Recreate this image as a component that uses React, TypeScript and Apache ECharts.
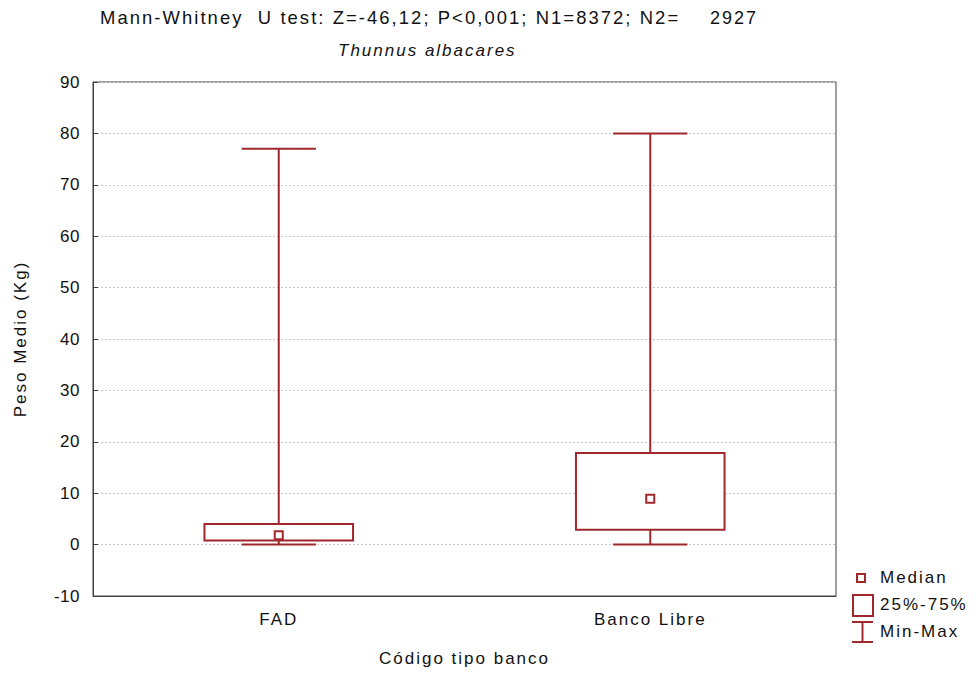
import React, { useEffect, useRef } from "react";
import * as echarts from "echarts";

const categories = ["FAD", "Banco Libre"];
const minValues = [0, 0];
const q1Values = [0.8, 2.9];
const medianValues = [1.8, 8.9];
const q3Values = [4, 17.8];
const maxValues = [77, 80];
const yTicks = { min: -10, max: 90, interval: 10 };

const RED = "#a0282c";
const FONT = "Liberation Sans, Arial, sans-serif";
const FS = 17;

export default function App() {
  const ref = useRef<HTMLDivElement>(null);
  useEffect(() => {
    if (!ref.current) return;
    const chart = echarts.init(ref.current, null, { renderer: "svg", width: 976, height: 673 });
    const data = categories.map((_, i) => [i, minValues[i], q1Values[i], medianValues[i], q3Values[i], maxValues[i]]);
    chart.setOption({
      animation: false,
      backgroundColor: "#ffffff",
      textStyle: { fontFamily: FONT },
      grid: { left: 93, top: 82, width: 743, height: 514, show: true, borderColor: "#404040", borderWidth: 1, backgroundColor: "transparent" },
      xAxis: {
        type: "category",
        data: categories,
        axisLine: { show: true, onZero: false, lineStyle: { color: "#404040" } },
        axisTick: { show: false },
        axisLabel: { color: "#111", fontSize: FS, margin: 15, fontFamily: FONT },
        splitLine: { show: false },
        name: "Código tipo banco",
        nameLocation: "middle",
        nameGap: 54,
        nameTextStyle: { color: "#111", fontSize: FS, fontFamily: FONT },
      },
      yAxis: {
        type: "value",
        min: yTicks.min,
        max: yTicks.max,
        interval: yTicks.interval,
        axisLine: { show: true, lineStyle: { color: "#404040" } },
        axisTick: { show: true, inside: true, length: 5, lineStyle: { color: "#404040" } },
        axisLabel: { color: "#111", fontSize: FS, margin: 13, fontFamily: FONT },
        splitLine: { show: true, lineStyle: { color: "#c8c8c8", type: [2, 2], width: 1 } },
        name: "Peso Medio (Kg)",
        nameLocation: "middle",
        nameGap: 64,
        nameTextStyle: { color: "#111", fontSize: FS, fontFamily: FONT },
      },
      series: [
        {
          type: "custom",
          data,
          renderItem: (params: any, api: any) => {
            const x = api.value(0);
            const pMin = api.coord([x, api.value(1)]);
            const pQ1 = api.coord([x, api.value(2)]);
            const pMed = api.coord([x, api.value(3)]);
            const pQ3 = api.coord([x, api.value(4)]);
            const pMax = api.coord([x, api.value(5)]);
            const band = api.size([1, 0])[0];
            const bw = band * 0.4;
            const cw = band * 0.2;
            const cx = pMed[0];
            const style = { stroke: RED, lineWidth: 2, fill: "none" };
            return {
              type: "group",
              children: [
                { type: "line", shape: { x1: cx, y1: pQ3[1], x2: cx, y2: pMax[1] }, style },
                { type: "line", shape: { x1: cx, y1: pQ1[1], x2: cx, y2: pMin[1] }, style },
                { type: "line", shape: { x1: cx - cw / 2, y1: pMax[1], x2: cx + cw / 2, y2: pMax[1] }, style },
                { type: "line", shape: { x1: cx - cw / 2, y1: pMin[1], x2: cx + cw / 2, y2: pMin[1] }, style },
                { type: "rect", shape: { x: cx - bw / 2, y: pQ3[1], width: bw, height: pQ1[1] - pQ3[1] }, style: { stroke: RED, lineWidth: 2, fill: "#ffffff" } },
                { type: "rect", shape: { x: cx - 4, y: pMed[1] - 4, width: 8, height: 8 }, style: { stroke: RED, lineWidth: 2, fill: "#ffffff" } },
              ],
            };
          },
        },
      ],
      graphic: [
        { type: "text", x: 100, y: 9, scaleX: 1.025, style: { text: "Mann-Whitney  U test: Z=-46,12; P<0,001; N1=8372; N2=", fontSize: 18, fill: "#111", fontFamily: FONT } },
        { type: "text", x: 710, y: 9, style: { text: "2927", fontSize: 18, fill: "#111", fontFamily: FONT } },
        { type: "text", x: 338, y: 42, style: { text: "Thunnus albacares", fontSize: FS, fontStyle: "italic", fill: "#111", fontFamily: FONT } },
        { type: "rect", shape: { x: 857, y: 574, width: 8, height: 8 }, style: { stroke: RED, lineWidth: 2, fill: "#fff" } },
        { type: "rect", shape: { x: 853, y: 595, width: 20, height: 21 }, style: { stroke: RED, lineWidth: 2, fill: "#fff" } },
        { type: "line", shape: { x1: 852, y1: 622, x2: 873, y2: 622 }, style: { stroke: RED, lineWidth: 2 } },
        { type: "line", shape: { x1: 862.5, y1: 622, x2: 862.5, y2: 642 }, style: { stroke: RED, lineWidth: 2 } },
        { type: "line", shape: { x1: 852, y1: 642, x2: 873, y2: 642 }, style: { stroke: RED, lineWidth: 2 } },
        { type: "text", x: 880, y: 569, style: { text: "Median", fontSize: FS, fill: "#111", fontFamily: FONT } },
        { type: "text", x: 880, y: 596, style: { text: "25%-75%", fontSize: FS, fill: "#111", fontFamily: FONT } },
        { type: "text", x: 880, y: 623, style: { text: "Min-Max", fontSize: FS, fill: "#111", fontFamily: FONT } },
      ],
    });
    return () => chart.dispose();
  }, []);
  return (
    <>
      <style>{`#root svg text { letter-spacing: 2px; } #root svg text[text-anchor="end"] { letter-spacing: 0.5px; }`}</style>
      <div ref={ref} style={{ position: "fixed", left: 0, top: 0, width: 976, height: 673 }} />
    </>
  );
}
